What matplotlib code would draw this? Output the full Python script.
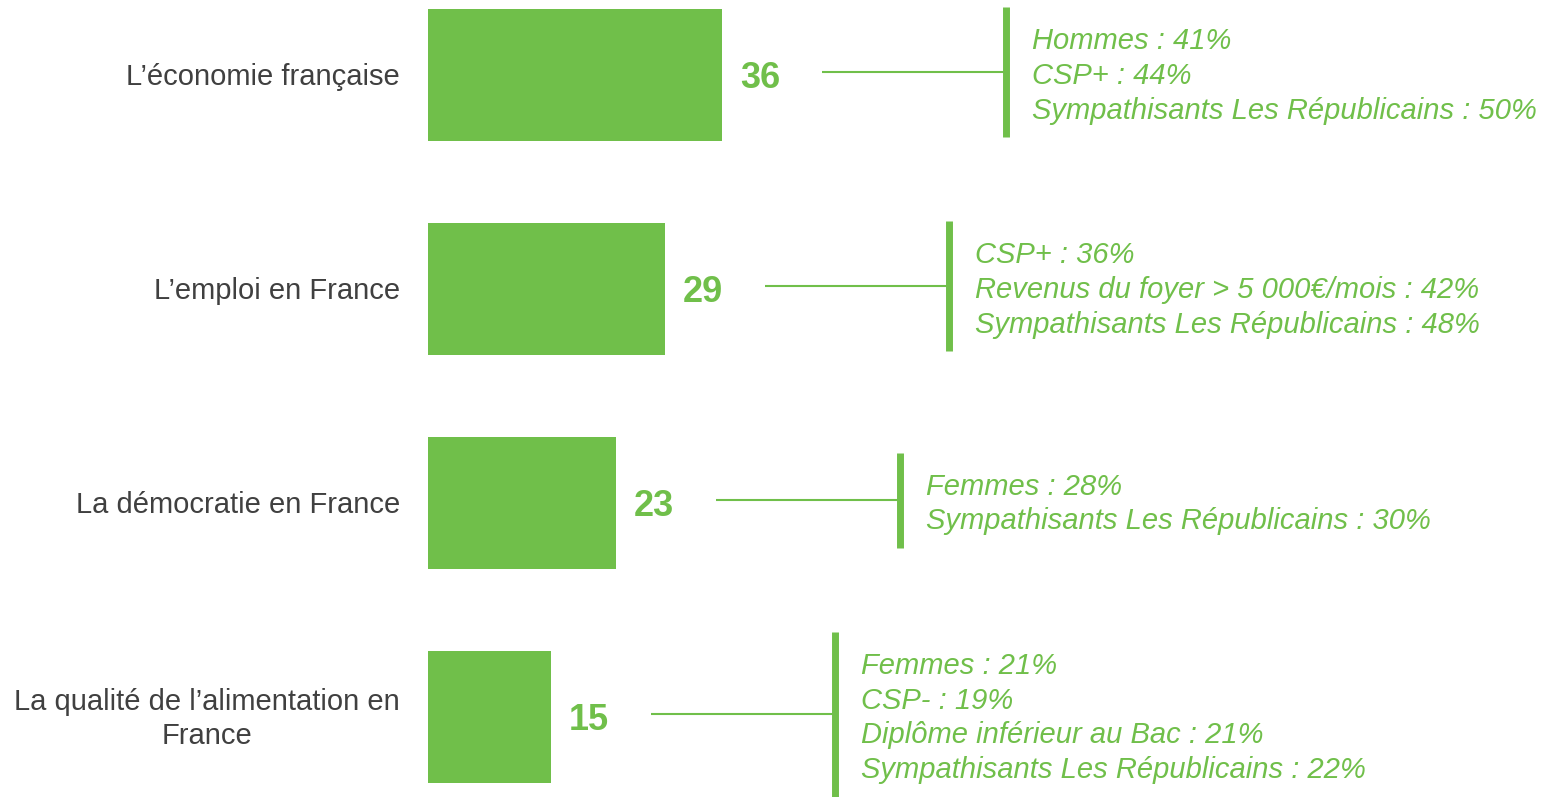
import matplotlib
matplotlib.use("Agg")
import matplotlib.pyplot as plt

plt.rcParams['font.family'] = ['Liberation Sans', 'DejaVu Sans']

categories = ["L\u2019économie française", "L\u2019emploi en France",
              "La démocratie en France", "La qualité de l\u2019alimentation en\nFrance"]
values = [36, 29, 23, 15]
details = [
    ["Hommes : 41%", "CSP+ : 44%", "Sympathisants Les Républicains : 50%"],
    ["CSP+ : 36%", "Revenus du foyer > 5 000€/mois : 42%", "Sympathisants Les Républicains : 48%"],
    ["Femmes : 28%", "Sympathisants Les Républicains : 30%"],
    ["Femmes : 21%", "CSP- : 19%", "Diplôme inférieur au Bac : 21%", "Sympathisants Les Républicains : 22%"],
]

GREEN = "#70BF4A"
GREY = "#404040"

W, H = 1548, 797
fig = plt.figure(figsize=(W / 100, H / 100), dpi=100)
ax = fig.add_axes([0, 0, 1, 1])
ax.axis("off")

pxu = 294 / 36.0          # pixels per value unit
row = 214.0               # pixels per row
x0, y0 = 428, 75
ax.set_xlim(-x0 / pxu, (W - x0) / pxu)
ax.set_ylim((H - y0) / row, -y0 / row)

ypos = list(range(len(values)))
ax.barh(ypos, values, height=132 / row, color=GREEN, align="center")

for i, (cat, v, det) in enumerate(zip(categories, values, details)):
    ax.text(-28 / pxu, i + 2 / row, cat, ha="right", va="center", fontsize=21,
            color=GREY, multialignment="center", linespacing=1.25)
    ax.text(v + 38 / pxu, i + 3 / row, str(v), ha="center", va="center",
            fontsize=26, fontweight="bold", color=GREEN)
    xs = v + 100 / pxu
    xv = v + 284 / pxu
    yc = i - 3 / row
    ax.plot([xs, xv], [yc, yc], color=GREEN, lw=1.5, solid_capstyle="butt")
    hh = (35 * len(det) + 25) / row
    ax.plot([xv, xv], [yc - hh / 2, yc + hh / 2], color=GREEN, lw=5,
            solid_capstyle="butt")
    ax.text(xv + 26 / pxu, i + 1 / row, "\n".join(det), ha="left", va="center",
            fontsize=21, style="italic", color=GREEN, linespacing=1.3)

fig.savefig("out.png", dpi=100)
